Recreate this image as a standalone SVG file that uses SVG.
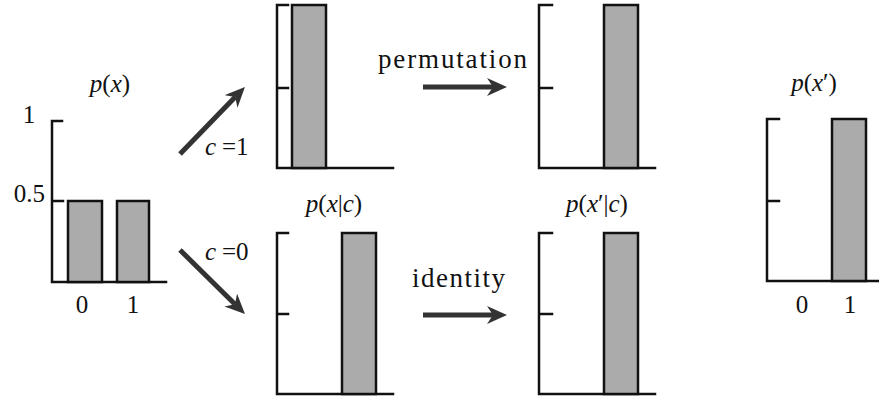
<svg xmlns="http://www.w3.org/2000/svg" width="879" height="398" viewBox="0 0 879 398" font-family="Liberation Serif, DejaVu Serif, serif">
<style>
.ax{fill:none;stroke:#111;stroke-width:2.5;stroke-linecap:square}
.bar{fill:#ababab;stroke:#111;stroke-width:2.5}
.lab{font-size:25px;fill:#111}
.num{font-size:25px;fill:#111}
.word{font-size:27px;fill:#111}
.it{font-style:italic}
.arr{stroke:#333;stroke-width:5;fill:none;marker-end:url(#head)}
</style>
<defs>
<marker id="head" markerUnits="userSpaceOnUse" markerWidth="22" markerHeight="20" viewBox="0 0 22 20" refX="6" refY="9" orient="auto">
<path d="M0,0 L20,9 L0,18 L6,9 Z" fill="#333"/>
</marker>
</defs>
<rect width="879" height="398" fill="#fff"/>

<g id="px">
<path class="ax" d="M62,121 H52 V282 H166 M52,201 H63"/>
<rect class="bar" x="68" y="201" width="34" height="81"/>
<rect class="bar" x="117" y="201" width="32" height="81"/>
<text class="lab" x="110" y="92" text-anchor="middle" font-family="Liberation Serif, serif"><tspan class="it">p</tspan>(<tspan class="it">x</tspan>)</text>
<text class="num" x="29" y="123" text-anchor="middle" font-family="Liberation Serif, serif">1</text>
<text class="num" x="45" y="202" text-anchor="end" font-family="Liberation Serif, serif">0.5</text>
<text class="num" x="82" y="313" text-anchor="middle" font-family="Liberation Serif, serif">0</text>
<text class="num" x="133" y="313" text-anchor="middle" font-family="Liberation Serif, serif">1</text>
</g>

<g id="pxc1">
<path class="ax" d="M288,5 H277 V168 H393 M277,88 H288"/>
<rect class="bar" x="292" y="5" width="34" height="163"/>
</g>

<g id="pxpc1">
<path class="ax" d="M552,5 H539 V168 H655 M539,88 H552"/>
<rect class="bar" x="604" y="5" width="34" height="163"/>
</g>

<g id="pxc0">
<path class="ax" d="M288,233 H277 V394 H393 M277,314 H288"/>
<rect class="bar" x="342" y="233" width="34" height="161"/>
<text class="lab" x="334" y="212" text-anchor="middle" font-family="Liberation Serif, serif"><tspan class="it">p</tspan>(<tspan class="it">x</tspan>|<tspan class="it">c</tspan>)</text>
</g>

<g id="pxpc0">
<path class="ax" d="M552,233 H539 V394 H655 M539,314 H552"/>
<rect class="bar" x="604" y="233" width="34" height="161"/>
<text class="lab" x="597" y="212" text-anchor="middle" font-family="Liberation Serif, serif"><tspan class="it">p</tspan>(<tspan class="it">x</tspan>′|<tspan class="it">c</tspan>)</text>
</g>

<g id="pxp">
<path class="ax" d="M779,119 H767 V281 H879 M767,201 H779"/>
<rect class="bar" x="832" y="119" width="34" height="162"/>
<text class="lab" x="814" y="91" text-anchor="middle" font-family="Liberation Serif, serif"><tspan class="it">p</tspan>(<tspan class="it">x</tspan>′)</text>
<text class="num" x="802" y="313" text-anchor="middle" font-family="Liberation Serif, serif">0</text>
<text class="num" x="850" y="313" text-anchor="middle" font-family="Liberation Serif, serif">1</text>
</g>

<g id="connectors">
<line class="arr" x1="180" y1="154" x2="235.2" y2="97.1"/>
<line class="arr" x1="180" y1="250" x2="235" y2="304.2"/>
<line class="arr" x1="423" y1="87" x2="493" y2="87"/>
<line class="arr" x1="423" y1="315" x2="493" y2="315"/>
<text class="num" y="155" font-family="Liberation Serif, serif"><tspan class="it" x="205">c</tspan><tspan x="222">=1</tspan></text>
<text class="num" y="260" font-family="Liberation Serif, serif"><tspan class="it" x="205">c</tspan><tspan x="222">=0</tspan></text>
<text class="word" x="378" y="68" textLength="149" lengthAdjust="spacing" font-family="Liberation Serif, serif">permutation</text>
<text class="word" x="412" y="287" textLength="93" lengthAdjust="spacing" font-family="Liberation Serif, serif">identity</text>
</g>
</svg>
